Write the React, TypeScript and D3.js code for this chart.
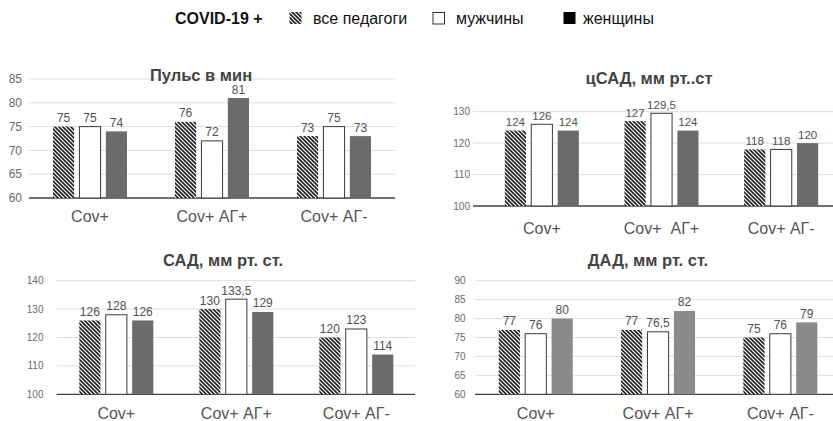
import React from "react";
import * as d3 from "d3";

// Shared categories and series
const categories = ["Cov+", "Cov+ АГ+", "Cov+ АГ-"];
const seriesNames = ["все педагоги", "мужчины", "женщины"];

// Values per panel: rows = categories, columns = series
const pulseValues = [
  [75, 75, 74],
  [76, 72, 81],
  [73, 75, 73],
];
const centralSbpValues = [
  [124, 126, 124],
  [127, 129.5, 124],
  [118, 118, 120],
];
const sbpValues = [
  [126, 128, 126],
  [130, 133.5, 129],
  [120, 123, 114],
];
const dbpValues = [
  [77, 76, 80],
  [77, 76.5, 82],
  [75, 76, 79],
];

const pulseTicks = [60, 65, 70, 75, 80, 85];
const centralSbpTicks = [100, 110, 120, 130];
const sbpTicks = [100, 110, 120, 130, 140];
const dbpTicks = [60, 65, 70, 75, 80, 85, 90];

const FONT = "'Liberation Sans', Arial, sans-serif";

type PanelProps = {
  title: string;
  values: number[][];
  ticks: number[];
  catLabels: string[];
  x0: number;
  x1: number;
  gridX0: number;
  gridX1: number;
  yBottom: number;
  yTop: number;
  tickLabelX: number;
  tickFont: number;
  valueFont: number;
  titleX: number;
  titleY: number;
  catY: number;
  dark: string;
};

const fmt = (v: number) => String(v).replace(".", ",");

function Panel(p: PanelProps) {
  const y = d3
    .scaleLinear()
    .domain([p.ticks[0], p.ticks[p.ticks.length - 1]])
    .range([p.yBottom, p.yTop]);
  const x = d3.scaleBand<string>().domain(categories).range([p.x0, p.x1]).padding(0);
  const groupHalf = 37;
  return (
    <g>
      {p.ticks.map((t, i) => (
        <g key={t}>
          <line
            x1={p.gridX0}
            x2={p.gridX1}
            y1={y(t)}
            y2={y(t)}
            stroke={i === 0 ? "#404040" : "#dedede"}
            strokeWidth={i === 0 ? 1.3 : 1}
          />
          <text
            x={p.tickLabelX}
            y={y(t)}
            dy="0.35em"
            textAnchor="end"
            fontSize={p.tickFont}
            fill="#6a6a6a"
            fontFamily={FONT}
          >
            {t}
          </text>
        </g>
      ))}
      {categories.map((c, ci) => {
        const cx = (x(c) as number) + x.bandwidth() / 2;
        const inner = d3
          .scaleBand<string>()
          .domain(seriesNames)
          .range([cx - groupHalf, cx + groupHalf])
          .paddingInner(0.2);
        return (
          <g key={c}>
            {seriesNames.map((s, si) => {
              const v = p.values[ci][si];
              const bx = inner(s) as number;
              const bw = inner.bandwidth();
              const top = y(v);
              const fill = si === 0 ? "url(#hatch)" : si === 1 ? "#ffffff" : p.dark;
              return (
                <g key={s}>
                  <rect
                    x={bx}
                    y={top}
                    width={bw}
                    height={p.yBottom - top}
                    fill={fill}
                    stroke={si === 1 ? "#3a3a3a" : "none"}
                    strokeWidth={1}
                  />
                  <text
                    x={bx + bw / 2}
                    y={top - 4.5}
                    textAnchor="middle"
                    fontSize={p.valueFont}
                    fill="#505050"
                    fontFamily={FONT}
                  >
                    {fmt(v)}
                  </text>
                </g>
              );
            })}
            <text
              x={cx}
              y={p.catY}
              textAnchor="middle"
              fontSize={16}
              fill="#555"
              fontFamily={FONT}
              style={{ whiteSpace: "pre" }}
            >
              {p.catLabels[ci]}
            </text>
          </g>
        );
      })}
      <text
        x={p.titleX}
        y={p.titleY}
        textAnchor="middle"
        fontSize={16.5}
        fontWeight="bold"
        fill="#444"
        fontFamily={FONT}
      >
        {p.title}
      </text>
    </g>
  );
}

export default function App() {
  return (
    <svg
      width={833}
      height={421}
      style={{ position: "absolute", left: 0, top: 0, background: "#fff" }}
    >
      <defs>
        <pattern id="hatch" patternUnits="userSpaceOnUse" width={4} height={4}>
          <rect width={4} height={4} fill="#ffffff" />
          <path d="M-1,-1 L5,5 M-1,3 L1,5 M3,-1 L5,1" stroke="#1e1e1e" strokeWidth={1.6} />
        </pattern>
      </defs>
      <rect width={833} height={421} fill="#fff" />

      {/* Legend */}
      <g fontFamily={FONT} fontSize={16} fill="#111">
        <text x={175} y={23.5} fontWeight="bold">COVID-19 +</text>
        <rect x={289.5} y={12} width={12} height={12} fill="url(#hatch)" />
        <text x={313} y={23.5}>{seriesNames[0]}</text>
        <rect x={433} y={12.5} width={11.5} height={11.5} fill="#fff" stroke="#333" strokeWidth={1} />
        <text x={456} y={23.5}>{seriesNames[1]}</text>
        <rect x={563.5} y={12} width={12} height={12} fill="#000" />
        <text x={583} y={23.5}>{seriesNames[2]}</text>
      </g>

      <Panel
        title="Пульс в мин"
        values={pulseValues}
        ticks={pulseTicks}
        catLabels={categories}
        x0={29}
        x1={395}
        gridX0={29}
        gridX1={395}
        yBottom={198}
        yTop={79}
        tickLabelX={22}
        tickFont={12}
        valueFont={12}
        titleX={201}
        titleY={81}
        catY={222}
        dark="#6b6b6b"
      />
      <Panel
        title="цСАД, мм рт..ст"
        values={centralSbpValues}
        ticks={centralSbpTicks}
        catLabels={["Cov+", "Cov+  АГ+", "Cov+ АГ-"]}
        x0={482}
        x1={841}
        gridX0={473}
        gridX1={841}
        yBottom={206}
        yTop={111.7}
        tickLabelX={470}
        tickFont={10}
        valueFont={11.5}
        titleX={649}
        titleY={83.5}
        catY={233.5}
        dark="#6b6b6b"
      />
      <Panel
        title="САД, мм рт. ст."
        values={sbpValues}
        ticks={sbpTicks}
        catLabels={categories}
        x0={56.3}
        x1={416.3}
        gridX0={56.5}
        gridX1={415}
        yBottom={394.3}
        yTop={280.7}
        tickLabelX={43.5}
        tickFont={10}
        valueFont={12}
        titleX={223}
        titleY={265.5}
        catY={418.5}
        dark="#6b6b6b"
      />
      <Panel
        title="ДАД, мм рт. ст."
        values={dbpValues}
        ticks={dbpTicks}
        catLabels={categories}
        x0={474.6}
        x1={841.5}
        gridX0={475}
        gridX1={841}
        yBottom={394.3}
        yTop={280.7}
        tickLabelX={465.5}
        tickFont={10}
        valueFont={12}
        titleX={648}
        titleY={265.5}
        catY={418.5}
        dark="#8a8a8a"
      />
    </svg>
  );
}
